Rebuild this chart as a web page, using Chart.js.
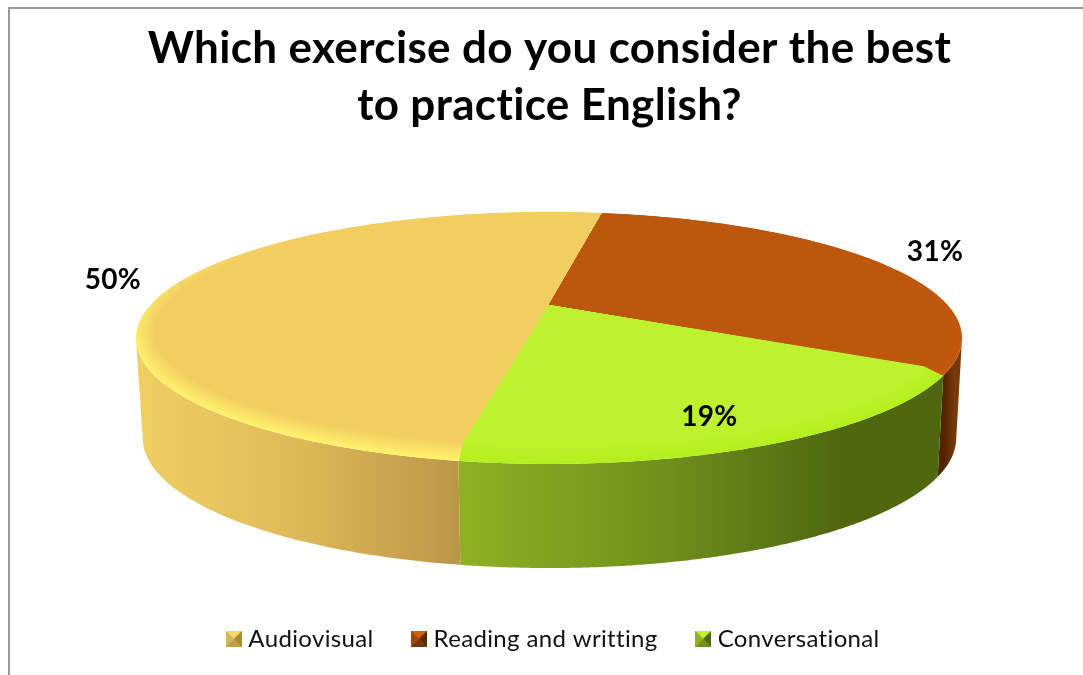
<!DOCTYPE html>
<html>
<head>
<meta charset="utf-8">
<script src="https://cdn.jsdelivr.net/npm/chart.js@4"></script>
<style>
  html, body { margin: 0; padding: 0; background: #fff; overflow: hidden; }
  #frame { position: absolute; left: 8px; top: 7px; width: 1075px; height: 668px;
           border-left: 2px solid #999; border-top: 2px solid #999; }
  #pie { position: absolute; left: 8px; top: 0; }
</style>
</head>
<body>
<div id="frame"></div>
<canvas id="pie" width="1083" height="675"></canvas>
<script>
const categories = ["Audiovisual", "Reading and writting", "Conversational"];
const percents = [50, 31, 19];

// colours of each slice: top face, rim highlight, side gradient, legend marker
const topColors = ["#F2CE60", "#BC570E", "#BFF22E"];
const rimColors = ["#FFF26C", "#C2590C", "#B4F01C"];
const sideColors = [
    [[0, "#F0CE62"], [0.45, "#E0BC58"], [1, "#BC9648"]],
    [[0, "#4E2300"], [0.6, "#522500"], [1, "#7A3A08"]],
    [[0, "#8FB123"], [0.45, "#6F8E1B"], [0.8, "#4F6810"], [1, "#4F6810"]]
];
const sideRanges = [[135, 452], [920, 947], [451, 922]];
const markerColors = [
    ["#F6DC66", "#D8B452", "#AA8A3C", "#C09C48"],
    ["#D0620E", "#A04A0A", "#5A2A04", "#74360A"],
    ["#C0F02C", "#8FB023", "#4F6810", "#6F8E1B"]
];
// where the percent label sits, in radii from the pie centre, plus a small nudge
const labelRadius = [1.17, 1.2, 0.8];
const labelNudge = [[1, -3], [1, -1], [-3, 6]];

// the pie is seen in perspective, so the disc is projected rather than squashed
const persp = -0.262;
const topFace = { cx: 541, A: 398.6, a: 305, b: 37.4 };
const bottomFace = { cx: 541.5, A: 392.5, a: 404, b: 15.2 };

function project(face, angle, r) {
    const u = r * Math.cos(angle);
    const v = r * Math.sin(angle);
    const d = 1 + persp * v;
    return { x: face.cx + face.A * u / d, y: (face.a + face.b * v) / d };
}

function mix(c1, c2, t) {
    const p = (c, i) => parseInt(c.substr(i, 2), 16);
    const ch = (i) => Math.round(p(c1, i) + (p(c2, i) - p(c1, i)) * t);
    return `rgb(${ch(1)},${ch(3)},${ch(5)})`;
}

function drawSide(ctx, arc, i) {
    // only the front of the wall can be seen, it ends where the outline is widest
    const pts = [];
    for (let k = 0; k <= 240; k++) {
        const a = arc.startAngle + (arc.endAngle - arc.startAngle) * k / 240;
        if (Math.sin(a) >= -persp) pts.push(a);
    }
    const grad = ctx.createLinearGradient(sideRanges[i][0], 0, sideRanges[i][1], 0);
    sideColors[i].forEach(s => grad.addColorStop(s[0], s[1]));
    ctx.fillStyle = grad;
    ctx.beginPath();
    pts.forEach((a, k) => {
        const p = project(topFace, a, 1);
        if (k == 0) ctx.moveTo(p.x, p.y); else ctx.lineTo(p.x, p.y);
    });
    pts.slice().reverse().forEach(a => {
        const p = project(bottomFace, a, 1);
        ctx.lineTo(p.x, p.y);
    });
    ctx.closePath();
    ctx.fill();
}

function drawTop(ctx, arc, i) {
    const layers = 14;
    for (let n = 0; n <= layers; n++) {
        const t = n / layers;
        const r = 1 - 0.04 * t;
        const grad = ctx.createLinearGradient(0, 240, 0, 360);
        grad.addColorStop(0, topColors[i]);
        grad.addColorStop(1, mix(rimColors[i], topColors[i], t));
        ctx.fillStyle = grad;
        ctx.beginPath();
        const c = project(topFace, 0, 0);
        ctx.moveTo(c.x, c.y);
        for (let k = 0; k <= 120; k++) {
            const a = arc.startAngle + (arc.endAngle - arc.startAngle) * k / 120;
            const p = project(topFace, a, r);
            ctx.lineTo(p.x, p.y - 11 * t * Math.max(0, Math.sin(a)));
        }
        ctx.closePath();
        ctx.fill();
    }
}

const pie3d = {
    id: "pie3d",
    beforeDatasetDraw(chart, args) {
        const ctx = chart.ctx;
        const arcs = chart.getDatasetMeta(args.index).data;
        ctx.save();
        arcs.forEach((arc, i) => drawSide(ctx, arc, i));
        arcs.forEach((arc, i) => drawTop(ctx, arc, i));
        ctx.fillStyle = "#000";
        ctx.font = "bold 28px Lato";
        ctx.textAlign = "center";
        ctx.textBaseline = "middle";
        arcs.forEach((arc, i) => {
            const mid = (arc.startAngle + arc.endAngle) / 2;
            const p = project(topFace, mid, labelRadius[i]);
            ctx.fillText(percents[i] + "%", p.x + labelNudge[i][0], p.y + labelNudge[i][1]);
        });
        ctx.restore();
        return false;
    }
};

// letter spacing also switches off the Lato ligatures; legend sits a little right of the title
const textTweaks = {
    id: "textTweaks",
    beforeLayout(chart) { chart.ctx.letterSpacing = "0.35px"; },
    afterLayout(chart) {
        chart.legend.left += 6;
        chart.legend.right += 6;
    }
};

// small pyramid marker used in the legend
function makeMarker(cols) {
    const c = document.createElement("canvas");
    c.width = 16; c.height = 16;
    const g = c.getContext("2d");
    g.fillStyle = cols[1];
    g.fillRect(0, 0, 16, 16);
    const tri = [[0, 0, 16, 0], [16, 0, 16, 16], [16, 16, 0, 16], [0, 16, 0, 0]];
    [cols[0], cols[2], cols[3], cols[1]].forEach((col, i) => {
        g.fillStyle = col;
        g.beginPath();
        g.moveTo(tri[i][0], tri[i][1]);
        g.lineTo(tri[i][2], tri[i][3]);
        g.lineTo(8, 8);
        g.closePath();
        g.fill();
    });
    return c;
}

new Chart(document.getElementById("pie"), {
    type: "pie",
    data: {
        labels: categories,
        datasets: [{ data: percents, backgroundColor: topColors, borderWidth: 0 }]
    },
    plugins: [textTweaks, pie3d],
    options: {
        responsive: false,
        animation: false,
        rotation: 189.7,
        layout: { padding: { bottom: 14 } },
        plugins: {
            tooltip: { enabled: false },
            title: {
                display: true,
                text: ["Which exercise do you consider the best", "to practice English?"],
                color: "#000",
                font: { family: "Lato", size: 44, weight: "bold", lineHeight: 1.295 },
                padding: { top: 20, bottom: 10 }
            },
            legend: {
                position: "bottom",
                labels: {
                    usePointStyle: true,
                    pointStyleWidth: 5,
                    padding: 43,
                    color: "#111",
                    font: { family: "Lato", size: 24 },
                    generateLabels: (chart) => categories.map((name, i) => ({
                        text: name,
                        pointStyle: makeMarker(markerColors[i]),
                        fontColor: "#111",
                        lineWidth: 0,
                        hidden: false,
                        index: i
                    }))
                }
            }
        }
    }
});
</script>
</body>
</html>
